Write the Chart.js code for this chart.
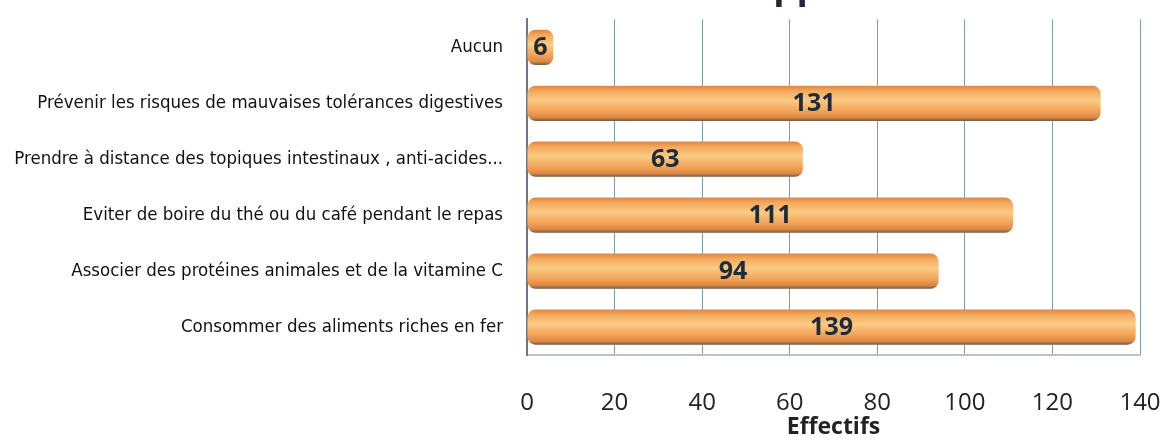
<!DOCTYPE html>
<html lang="fr">
<head>
<meta charset="utf-8">
<title>Conseils donnés lors de la supplémentation en fer</title>
<script src="https://cdn.jsdelivr.net/npm/chart.js@4.4.1/dist/chart.umd.min.js"></script>
<style>
  html, body { margin: 0; padding: 0; background: #fff; overflow: hidden; }
  .wrap { position: relative; width: 1167px; height: 441px; overflow: hidden; }
  #chart { position: absolute; left: 0; top: -35px; }
</style>
</head>
<body>
<div class="wrap"><canvas id="chart" width="1167" height="476"></canvas></div>
<script>
const titleText = "Conseils donnés lors de la supplémentation en fer";
const axisTitle = "Effectifs";
const categories = [
  "Aucun",
  "Prévenir les risques de mauvaises tolérances digestives",
  "Prendre à distance des topiques intestinaux , anti-acides...",
  "Eviter de boire du thé ou du café pendant le repas",
  "Associer des protéines animales et de la vitamine C",
  "Consommer des aliments riches en fer",
];
const effectifs = [6, 131, 63, 111, 94, 139];
const xMin = 0;
const xMax = 140;
const xStep = 20;

const barShare = 0.63;

// cylinder look: each bar gets its own vertical gradient just before drawing
const cylinderFill = {
  id: "cylinderFill",
  beforeDatasetsDraw(chart) {
    const { ctx } = chart;
    chart.getDatasetMeta(0).data.forEach((bar) => {
      const top = bar.y - bar.height / 2;
      const bottom = bar.y + bar.height / 2;
      if (!isFinite(top) || !isFinite(bottom)) {
        return;
      }
      const g = ctx.createLinearGradient(0, top, 0, bottom);
      g.addColorStop(0, "#e0863f");
      g.addColorStop(0.15, "#f3a95f");
      g.addColorStop(0.42, "#fbcb84");
      g.addColorStop(0.7, "#f3a65b");
      g.addColorStop(0.9, "#e08843");
      g.addColorStop(1, "#6f5c48");
      // options are shared between bars, so give each bar its own copy
      bar.options = { ...bar.options, backgroundColor: g };
    });
  },
};

const valueLabels = {
  id: "valueLabels",
  afterDatasetsDraw(chart) {
    const { ctx } = chart;
    const meta = chart.getDatasetMeta(0);
    ctx.save();
    ctx.font = "bold 25px 'Open Sans', sans-serif";
    ctx.fillStyle = "#1d2b3a";
    ctx.textAlign = "center";
    ctx.textBaseline = "middle";
    meta.data.forEach((bar, i) => {
      ctx.fillText(String(effectifs[i]), (bar.base + bar.x) / 2, bar.y + 1);
    });
    ctx.restore();
  },
};

new Chart(document.getElementById("chart"), {
  type: "bar",
  data: {
    labels: categories,
    datasets: [
      {
        label: axisTitle,
        data: effectifs,
        backgroundColor: "#f3a85f",
        borderRadius: 8,
        borderSkipped: false,
        categoryPercentage: 1,
        barPercentage: barShare,
      },
    ],
  },
  options: {
    indexAxis: "y",
    responsive: false,
    animation: false,
    layout: { padding: { left: 0, right: 0, top: 0, bottom: 0 } },
    plugins: {
      legend: { display: false },
      tooltip: { enabled: false },
      title: {
        display: true,
        text: titleText,
        align: "end",
        color: "#1d2b38",
        font: { family: "'Open Sans', sans-serif", size: 37, weight: "bold" },
        padding: { top: 0, bottom: 10 },
      },
    },
    scales: {
      x: {
        min: xMin,
        max: xMax,
        ticks: {
          stepSize: xStep,
          color: "#222",
          padding: 34,
          font: { family: "'Open Sans', sans-serif", size: 24 },
        },
        grid: { color: "#7f9bb0", lineWidth: 1, drawTicks: false },
        border: { display: true, color: "#b4c4d1", width: 2 },
        title: {
          display: true,
          text: axisTitle,
          color: "#222",
          font: { family: "'Open Sans', sans-serif", size: 23, weight: "bold" },
          padding: { top: 0, bottom: 0 },
        },
        afterFit(scale) {
          scale.height = 86;
          // tick padding would otherwise eat into the right side
          scale.paddingLeft = 0;
          scale.paddingRight = 27;
        },
      },
      y: {
        ticks: {
          color: "#111",
          padding: 24,
          font: { family: "'DejaVu Sans Condensed', sans-serif", size: 18.5 },
        },
        grid: { display: false, drawTicks: false },
        border: { display: true, color: "#6b7a88", width: 2 },
        afterFit(scale) {
          scale.width = 527;
        },
      },
    },
  },
  plugins: [cylinderFill, valueLabels],
});
</script>
</body>
</html>
